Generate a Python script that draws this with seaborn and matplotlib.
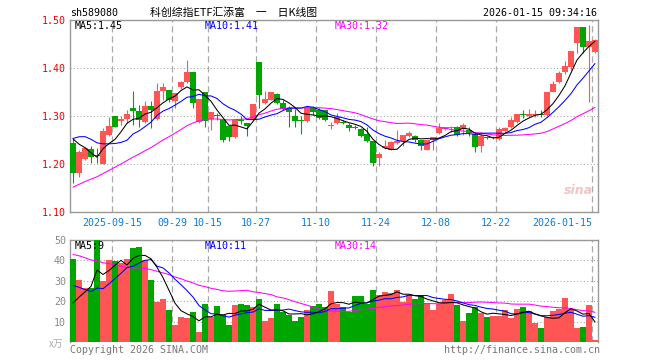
import numpy as np
import pandas as pd
import seaborn as sns
import matplotlib
matplotlib.use('Agg')
import matplotlib.pyplot as plt

# daily candles, 2025-09-04 .. 2026-01-15 (88 trading days)
opens = [
    1.244, 1.181, 1.210, 1.231, 1.217, 1.201, 1.261, 1.300, 1.290, 1.294,
    1.317, 1.311, 1.287, 1.320, 1.294, 1.353, 1.355, 1.331, 1.360, 1.370,
    1.392, 1.288, 1.349, 1.294, 1.301, 1.292, 1.280, 1.256, 1.290, 1.285,
    1.292, 1.412, 1.327, 1.334, 1.346, 1.328, 1.317, 1.300, 1.290, 1.289,
    1.317, 1.313, 1.312, 1.279, 1.285, 1.286, 1.282, 1.276, 1.273, 1.263,
    1.247, 1.212, 1.233, 1.230, 1.243, 1.247, 1.259, 1.258, 1.251, 1.230,
    1.250, 1.265, 1.272, 1.276, 1.277, 1.273, 1.271, 1.262, 1.237, 1.257,
    1.255, 1.252, 1.268, 1.277, 1.287, 1.304, 1.300, 1.303, 1.304, 1.303,
    1.351, 1.371, 1.392, 1.403, 1.452, 1.485, 1.443, 1.433]
closes = [
    1.181, 1.226, 1.233, 1.215, 1.216, 1.269, 1.280, 1.277, 1.293, 1.305,
    1.310, 1.292, 1.320, 1.312, 1.353, 1.360, 1.334, 1.348, 1.370, 1.391,
    1.328, 1.336, 1.290, 1.308, 1.300, 1.249, 1.256, 1.292, 1.289, 1.280,
    1.325, 1.344, 1.336, 1.349, 1.328, 1.315, 1.308, 1.289, 1.289, 1.317,
    1.308, 1.296, 1.291, 1.281, 1.298, 1.285, 1.275, 1.275, 1.258, 1.247,
    1.202, 1.221, 1.237, 1.245, 1.248, 1.261, 1.265, 1.250, 1.238, 1.251,
    1.256, 1.275, 1.277, 1.278, 1.261, 1.282, 1.265, 1.235, 1.259, 1.255,
    1.257, 1.272, 1.276, 1.292, 1.304, 1.303, 1.304, 1.305, 1.302, 1.351,
    1.367, 1.390, 1.405, 1.436, 1.485, 1.443, 1.456, 1.459]
highs = [
    1.252, 1.230, 1.236, 1.238, 1.233, 1.275, 1.297, 1.301, 1.301, 1.313,
    1.353, 1.323, 1.331, 1.331, 1.369, 1.369, 1.355, 1.348, 1.372, 1.417,
    1.392, 1.336, 1.351, 1.308, 1.306, 1.292, 1.280, 1.292, 1.300, 1.285,
    1.325, 1.412, 1.353, 1.349, 1.347, 1.333, 1.320, 1.314, 1.300, 1.319,
    1.320, 1.317, 1.312, 1.287, 1.306, 1.292, 1.286, 1.282, 1.275, 1.278,
    1.247, 1.226, 1.250, 1.247, 1.270, 1.261, 1.268, 1.260, 1.251, 1.251,
    1.256, 1.285, 1.278, 1.280, 1.279, 1.286, 1.277, 1.262, 1.262, 1.259,
    1.259, 1.278, 1.278, 1.297, 1.304, 1.313, 1.314, 1.313, 1.312, 1.351,
    1.372, 1.394, 1.414, 1.436, 1.485, 1.485, 1.490, 1.460]
lows = [
    1.160, 1.173, 1.208, 1.203, 1.203, 1.199, 1.258, 1.277, 1.281, 1.285,
    1.281, 1.277, 1.286, 1.275, 1.291, 1.334, 1.330, 1.317, 1.356, 1.368,
    1.317, 1.285, 1.277, 1.270, 1.292, 1.245, 1.247, 1.254, 1.283, 1.258,
    1.291, 1.317, 1.325, 1.333, 1.326, 1.313, 1.277, 1.277, 1.263, 1.287,
    1.303, 1.294, 1.290, 1.273, 1.284, 1.284, 1.269, 1.273, 1.256, 1.245,
    1.195, 1.195, 1.231, 1.229, 1.242, 1.238, 1.257, 1.246, 1.230, 1.229,
    1.229, 1.262, 1.271, 1.267, 1.259, 1.261, 1.259, 1.226, 1.226, 1.253,
    1.252, 1.249, 1.267, 1.276, 1.286, 1.295, 1.298, 1.297, 1.297, 1.299,
    1.349, 1.369, 1.388, 1.396, 1.431, 1.431, 1.330, 1.431]
# volume in 万
volumes = [
    40.5, 30.5, 26.7, 26.7, 52.0, 29.7, 40.0, 39.7, 38.8, 40.5,
    46.3, 46.7, 40.0, 30.5, 19.7, 21.0, 15.5, 8.5, 12.2, 11.7,
    14.7, 4.7, 18.5, 12.2, 17.7, 13.3, 8.5, 18.0, 18.5, 18.0,
    17.2, 21.0, 10.5, 11.7, 18.5, 14.7, 13.3, 10.5, 12.5, 15.5,
    17.5, 18.5, 17.2, 25.0, 18.5, 17.2, 14.7, 22.5, 22.5, 18.8,
    25.5, 23.0, 24.7, 24.2, 25.5, 19.7, 23.0, 21.0, 22.5, 18.8,
    15.5, 18.5, 20.5, 23.5, 18.0, 10.5, 14.2, 17.2, 14.2, 12.2,
    12.7, 12.7, 15.5, 11.7, 16.0, 17.2, 15.0, 9.2, 6.7, 12.2,
    15.0, 16.3, 21.7, 16.3, 6.7, 7.2, 18.0, 1.0]

# 29 days before the window (estimated from where the MA lines start),
# only used so the moving averages are defined from the first candle
prev_closes = [1.05, 1.06, 1.06, 1.07, 1.07, 1.08, 1.08, 1.09, 1.09, 1.10,
               1.10, 1.11, 1.11, 1.12, 1.12, 1.13, 1.13, 1.14, 1.15, 1.16,
               1.19, 1.23, 1.27, 1.29, 1.29, 1.28, 1.27, 1.27, 1.26]
prev_volumes = [50, 55, 60, 65, 58, 52, 62, 55, 60, 52,
                48, 45, 50, 42, 46, 40, 44, 38, 46, 42,
                40, 38, 36, 35, 33, 16, 14, 13, 12]

tick_pos = [7, 17, 23, 31, 41, 51, 61, 71, 87]
tick_labels = ['2025-09-15', '09-29', '10-15', '10-27', '11-10',
               '11-24', '12-08', '12-22', '2026-01-15']
price_ticks = [1.10, 1.20, 1.30, 1.40, 1.50]
vol_ticks = [10, 20, 30, 40, 50]

RED = '#ff5555'
GREEN = '#00a600'
GRID = '#aaaaaa'
MONO = 'DejaVu Sans Mono'
CJK = ['Noto Sans CJK SC', 'DejaVu Sans']

sns.set_style('white')
plt.rcParams['font.family'] = [MONO, 'Noto Sans CJK SC']

n = len(closes)
xc = np.arange(n) + 0.5
o = np.array(opens)
c = np.array(closes)
up = c > o
colors = np.where(up, RED, GREEN)

all_close = pd.Series(prev_closes + closes)
all_vol = pd.Series(prev_volumes + volumes)
ma = {k: all_close.rolling(k).mean().values[-n:] for k in (5, 10, 30)}
vma = {k: all_vol.rolling(k).mean().values[-n:] for k in (5, 10, 30)}

W, H = 660, 360
fig = plt.figure(figsize=(W / 100, H / 100), dpi=100)


def box(l, t, r, b):
    return [l / W, 1 - b / H, (r - l) / W, (b - t) / H]


ax = fig.add_axes(box(70, 20, 598, 212))
axv = fig.add_axes(box(70, 240, 598, 342))

for a in (ax, axv):
    a.set_xlim(0, n)
    a.set_xticks(tick_pos)
    a.set_axisbelow(True)
    a.xaxis.grid(True, linestyle=(0, (5, 3)), color=GRID, lw=0.9)
    a.yaxis.grid(True, linestyle=(0, (1, 2)), color=GRID, lw=0.8)
    a.tick_params(length=0)
    for s in a.spines.values():
        s.set_color('#999999')
        s.set_linewidth(1)

# price panel
ax.set_ylim(1.10, 1.50)
ax.set_yticks(price_ticks)
ax.set_yticklabels([f'{v:.2f}' for v in price_ticks])
ax.tick_params(axis='y', colors='#ee0000', labelsize=7.2, pad=3)
ax.set_xticklabels(tick_labels)
ax.tick_params(axis='x', colors='#0a7fd4', labelsize=7.2, pad=4)
ax.get_xticklabels()[-1].set_ha('right')

body_h = np.maximum(np.abs(c - o), 0.0018)
ax.vlines(xc, lows, highs, colors=colors, lw=0.8, zorder=2)
ax.bar(xc, body_h, bottom=np.minimum(o, c), width=0.84, color=colors,
       linewidth=0, zorder=3)
sns.lineplot(x=xc, y=ma[30], ax=ax, color='#ff00ff', lw=0.75, zorder=4)
sns.lineplot(x=xc, y=ma[10], ax=ax, color='#0000ff', lw=0.75, zorder=4)
sns.lineplot(x=xc, y=ma[5], ax=ax, color='black', lw=0.75, zorder=4)
ax.set_xlabel('')
ax.set_ylabel('')

# volume panel
axv.set_ylim(0, 50)
axv.set_yticks(vol_ticks)
axv.set_yticklabels([str(v) for v in vol_ticks])
axv.tick_params(axis='y', colors='#888888', labelsize=7.2, pad=3)
axv.set_xticklabels([])
axv.spines['bottom'].set_visible(False)
axv.bar(xc, volumes, width=0.84, color=colors, linewidth=0, zorder=3)
sns.lineplot(x=xc, y=vma[30], ax=axv, color='#ff00ff', lw=0.75, zorder=4)
sns.lineplot(x=xc, y=vma[10], ax=axv, color='#0000ff', lw=0.75, zorder=4)
sns.lineplot(x=xc, y=vma[5], ax=axv, color='black', lw=0.75, zorder=4)
axv.set_xlabel('')
axv.set_ylabel('')


def label(x, y, s, **kw):
    kw.setdefault('fontsize', 7.2)
    kw.setdefault('family', MONO)
    fig.text(x / W, 1 - y / H, s, va='center', **kw)


# header
label(70, 13, 'sh589080', color='black')
label(150, 13, '科创综指ETF汇添富\u3000一\u3000日K线图', color='black',
      family=CJK, fontsize=7.8)
label(597, 13, '2026-01-15 09:34:16', color='black', ha='right')

# MA legends
label(75, 26, 'MA5:1.45', color='black')
label(205, 26, 'MA10:1.41', color='#0000ff')
label(335, 26, 'MA30:1.32', color='#ff00ff')
label(75, 246, 'MA5:9', color='black')
label(205, 246, 'MA10:11', color='#0000ff')
label(335, 246, 'MA30:14', color='#ff00ff')

# watermark and footer
label(578, 190, 'sina', color='#f3c4c4', family='DejaVu Sans', fontsize=9,
      style='italic', weight='bold', ha='center')
label(49, 344, 'x万', color='#aaaaaa', family=CJK, fontsize=7)
label(70, 350, 'Copyright 2026 SINA.COM', color='#777777')
label(600, 350, 'http://finance.sina.com.cn', color='#777777', ha='right')

fig.savefig('out.png', dpi=100)
